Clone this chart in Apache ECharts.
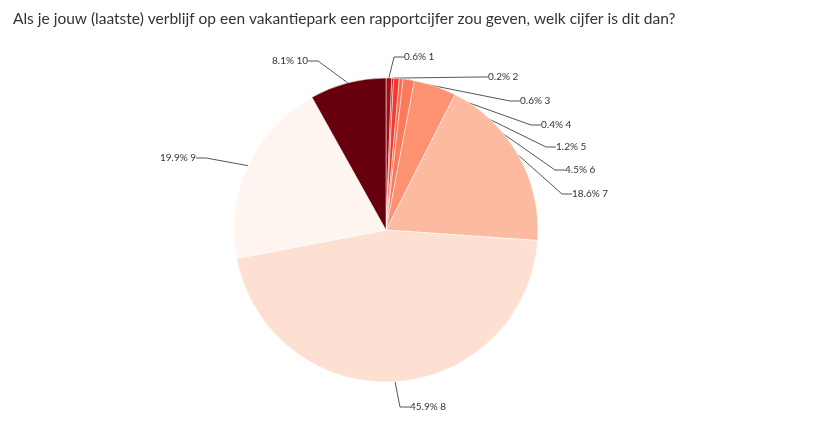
<!DOCTYPE html>
<html>
<head>
<meta charset="utf-8">
<title>Rapportcijfer</title>
<script src="https://cdn.jsdelivr.net/npm/echarts@6/dist/echarts.min.js"></script>
</head>
<body style="margin:0;background:#fff;">
<div id="main" style="width:827px;height:433px;"></div>
<script>
var categories = ['1', '2', '3', '4', '5', '6', '7', '8', '9', '10'];
var values = [0.6, 0.2, 0.6, 0.4, 1.2, 4.5, 18.6, 45.9, 19.9, 8.1];
var colors = ['#a50f15', '#cb181d', '#ef3b2c', '#fb6a4a', '#fc7a5c', '#fc9272', '#fcbba1', '#fee0d2', '#fff5f0', '#67000d'];
// label anchor spots (left x, middle y) for each slice
var labelSpots = [[404, 57], [488, 77], [520, 101], [541, 125], [556, 147], [565, 170], [572, 194], [410, 407], [160, 158], [272, 61]];

var myChart = echarts.init(document.getElementById('main'));
myChart.setOption({
    animation: false,
    title: {
        text: 'Als je jouw (laatste) verblijf op een vakantiepark een rapportcijfer zou geven, welk cijfer is dit dan?',
        left: 8, top: 6,
        textStyle: { fontFamily: 'Lato', fontSize: 15.5, fontWeight: 'normal', color: '#333' }
    },
    series: [{
        type: 'pie',
        center: [386, 230],
        radius: 152,
        startAngle: 90,
        clockwise: true,
        data: categories.map(function (c, i) {
            return { name: c, value: values[i], itemStyle: { color: colors[i] } };
        }),
        itemStyle: { borderColor: '#fff', borderWidth: 0.5 },
        label: {
            formatter: function (p) { return p.value.toFixed(1) + '% ' + p.name; },
            fontFamily: 'Lato', fontSize: 10, color: '#333'
        },
        labelLine: { lineStyle: { color: '#555', width: 1 }, length: 10, length2: 10 },
        labelLayout: function (p) {
            var s = labelSpots[p.dataIndex];
            return { x: s[0], y: s[1], align: 'left', verticalAlign: 'middle' };
        }
    }]
});
</script>
</body>
</html>
